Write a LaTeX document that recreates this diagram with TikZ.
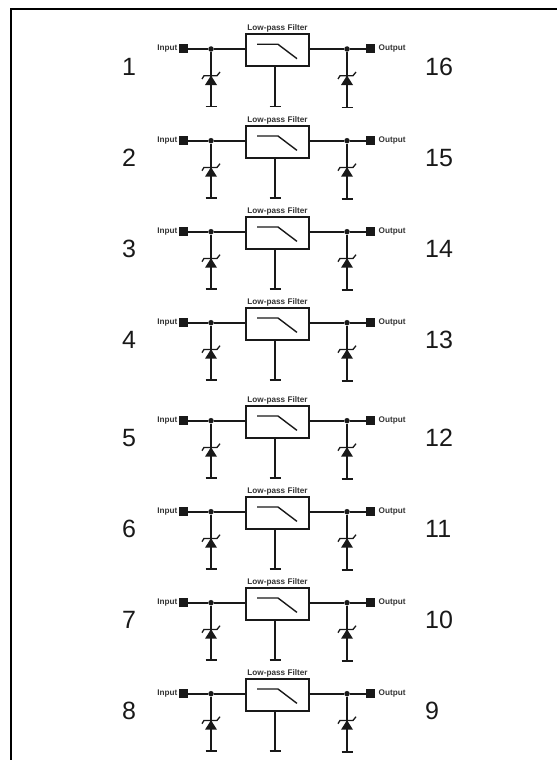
\documentclass[tikz,border=0pt]{standalone}
\usepackage{fontspec}
\setmainfont{Liberation Sans}
\tikzset{
 wire/.style={line width=1.6pt,black!90},
 pad/.style={fill=black!90,draw=none,minimum width=9pt,minimum height=9pt,inner sep=0pt},
 small/.style={font=\bfseries\fontsize{8.2}{9}\selectfont,text=black!80,inner sep=0pt},
 num/.style={font=\fontsize{25}{27}\selectfont,text=black!90,inner sep=0pt},
 filt/.style={draw=black!90,line width=1.6pt,minimum width=63pt,minimum height=32pt,inner sep=0pt},
 dot/.style={circle,fill=black!90,minimum size=5.5pt,inner sep=0pt},
}
\newcommand{\zen}[2]{% x, row y
 \fill[black!90] (#1-6,#2+36) -- (#1+6,#2+36) -- (#1,#2+26.5) -- cycle;
 \draw[line width=1.3pt,black!90] (#1-9,#2+30) -- (#1-7,#2+26.7) -- (#1+6,#2+26.7) -- (#1+9,#2+23);
}
\newcommand{\stage}[4]{% id, y, left number, right number
 \begin{scope}[shift={(0,#2)}]
 \node[filt] (f#1) at (277.5,1.3) {};
 \node[small,anchor=south] (t#1) at (277.5,-16.5) {Low-pass Filter};
 \node[pad] (i#1) at (183.5,0) {};
 \node[pad] (o#1) at (370.5,0) {};
 \node[small,anchor=east] (il#1) at (177.5,-0.5) {Input};
 \node[small,anchor=west] (ol#1) at (378.5,-0.5) {Output};
 \node[dot] (a#1) at (211,0) {};
 \node[dot] (b#1) at (347,0) {};
 \coordinate (ga#1) at (211,57.5);
 \coordinate (gb#1) at (347,58.5);
 \coordinate (gc#1) at (275,57.5);
 \draw[wire] (i#1) -- (a#1) -- (f#1.west |- a#1);
 \draw[wire] (f#1.east |- b#1) -- (b#1) -- (o#1);
 \draw[wire] (a#1) -- (ga#1);
 \draw[wire] (b#1) -- (gb#1);
 \draw[wire] (f#1.south -| gc#1) -- (gc#1);
 \draw[line width=1.6pt,black!90] (205.5,57.5) -- (216.5,57.5) (341.5,58.5) -- (352.5,58.5) (269.5,57.5) -- (280.5,57.5);
 \zen{211}{0}
 \zen{347}{0}
 \draw[line width=1.4pt,black!90] (257,-4.7) -- (278,-4.7) -- (297,9.7);
 \node[num] (l#1) at (129,17.5) {#3};
 \node[num,anchor=west] (r#1) at (425,17.5) {#4};
 \end{scope}
}
\begin{document}
\begin{tikzpicture}[x=1pt,y=-1pt]
\useasboundingbox (0,0) rectangle (557,760);
\draw[line width=2pt] (11,760) -- (11,9.2) -- (557,9.2);
\stage{1}{49}{1}{16}
\stage{2}{140.7}{2}{15}
\stage{3}{231.7}{3}{14}
\stage{4}{322.7}{4}{13}
\stage{5}{420.7}{5}{12}
\stage{6}{511.7}{6}{11}
\stage{7}{602.7}{7}{10}
\stage{8}{693.7}{8}{9}
\end{tikzpicture}
\end{document}
